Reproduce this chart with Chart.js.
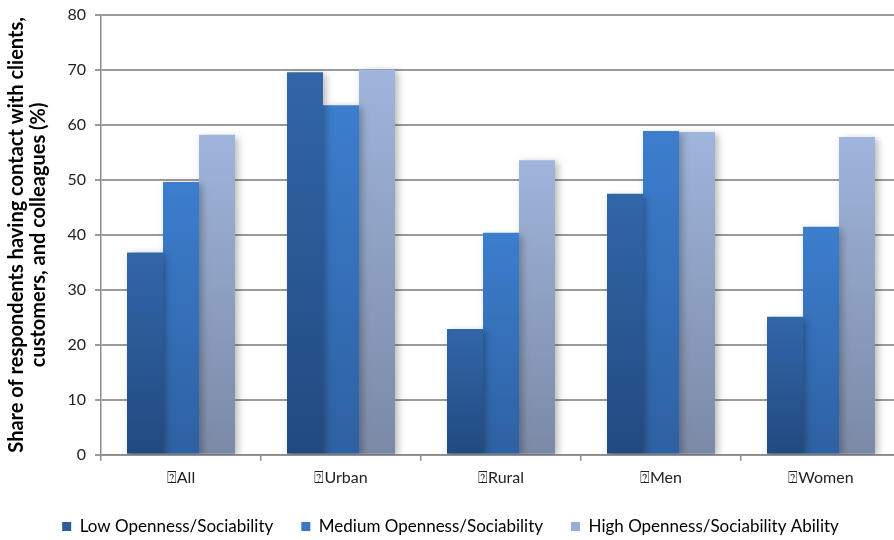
<!DOCTYPE html>
<html>
<head>
<meta charset="utf-8">
<script src="https://cdn.jsdelivr.net/npm/chart.js@4.4.1/dist/chart.umd.min.js"></script>
<style>
  html, body { margin: 0; padding: 0; background: #fff; overflow: hidden; }
  #wrap { position: relative; width: 902px; height: 540px; }
</style>
</head>
<body>
<div id="wrap"><canvas id="chart"></canvas></div>
<script>
// Groups along the x axis
const categories = ['\u2370All', '\u2370Urban', '\u2370Rural', '\u2370Men', '\u2370Women'];

// Share of respondents (%) by openness/sociability level
const lowOpenness = [36.8, 69.6, 22.9, 47.5, 25.1];
const mediumOpenness = [49.6, 63.6, 40.4, 58.9, 41.5];
const highOpenness = [58.2, 70.1, 53.6, 58.7, 57.8];

const seriesNames = [
  'Low Openness/Sociability',
  'Medium Openness/Sociability',
  'High Openness/Sociability Ability'
];

const yTicks = [0, 10, 20, 30, 40, 50, 60, 70, 80];

const FONT = 'Lato, "Open Sans", "DejaVu Sans", sans-serif';
const LEGEND_GAP = 28;

// vertical gradient running from each bar's top to its base
function barGradient(topColor, bottomColor) {
  return (ctx) => {
    const chart = ctx.chart;
    const y = chart.scales.y;
    if (!y || ctx.raw === undefined) return topColor;
    const top = y.getPixelForValue(ctx.raw);
    const base = y.getPixelForValue(0);
    if (!isFinite(top) || !isFinite(base) || top === base) return topColor;
    const g = chart.ctx.createLinearGradient(0, top, 0, base);
    g.addColorStop(0, topColor);
    g.addColorStop(1, bottomColor);
    return g;
  };
}

// soft drop shadow behind the bars
const barShadow = {
  id: 'barShadow',
  beforeDatasetsDraw(chart) {
    const c = chart.ctx;
    c.save();
    c.shadowColor = 'rgba(0,0,0,0.28)';
    c.shadowBlur = 7;
    c.shadowOffsetX = 3;
    c.shadowOffsetY = 2;
  },
  afterDatasetsDraw(chart) {
    chart.ctx.restore();
  }
};

new Chart(document.getElementById('chart'), {
  type: 'bar',
  data: {
    labels: categories,
    datasets: [
      {
        label: seriesNames[0],
        data: lowOpenness,
        backgroundColor: barGradient('#3166a9', '#224a80'),
        legendColor: '#2c5c9a'
      },
      {
        label: seriesNames[1],
        data: mediumOpenness,
        backgroundColor: barGradient('#3c7ecd', '#2e61a3'),
        legendColor: '#3a78c3'
      },
      {
        label: seriesNames[2],
        data: highOpenness,
        backgroundColor: barGradient('#9fb5dc', '#7b89a6'),
        legendColor: '#9aaed3'
      }
    ]
  },
  plugins: [barShadow],
  options: {
    responsive: true,
    maintainAspectRatio: false,
    animation: false,
    layout: { padding: { left: 0, right: 1, top: 15, bottom: 0 } },
    datasets: {
      bar: { categoryPercentage: 0.675, barPercentage: 1.0 }
    },
    plugins: {
      legend: {
        position: 'bottom',
        maxHeight: LEGEND_GAP + 22,
        labels: {
          font: { family: FONT, size: 17 },
          color: '#222',
          boxWidth: 9,
          boxHeight: 9,
          padding: LEGEND_GAP,
          generateLabels(chart) {
            return chart.data.datasets.map((ds, i) => ({
              text: ds.label,
              fillStyle: ds.legendColor,
              strokeStyle: ds.legendColor,
              lineWidth: 0,
              hidden: false,
              datasetIndex: i
            }));
          }
        }
      },
      tooltip: { enabled: false }
    },
    scales: {
      x: {
        afterFit(scale) { scale.height -= 4; },
        grid: {
          offset: true,
          drawOnChartArea: false,
          drawTicks: true,
          tickLength: 6,
          color: '#8c8c8c',
          lineWidth: 1.5
        },
        border: { color: '#8c8c8c', width: 1.5 },
        ticks: {
          font: { family: FONT, size: 16 },
          color: '#222',
          padding: 7
        }
      },
      y: {
        min: 0,
        max: 80,
        afterBuildTicks(scale) {
          scale.ticks = yTicks.map(v => ({ value: v }));
        },
        afterFit(scale) {
          scale.width = 101;
          scale.paddingTop = 0;
          scale.paddingBottom = 0;
        },
        grid: {
          color: '#9a9a9a',
          lineWidth: 2,
          drawTicks: true,
          tickLength: 6
        },
        border: { color: '#8c8c8c', width: 1.5 },
        ticks: {
          font: { family: FONT, size: 16 },
          color: '#222',
          padding: 9
        },
        title: {
          display: true,
          text: ['Share of respondents having contact with clients,', 'customers, and colleagues (%)'],
          font: { family: FONT, size: 20, weight: 'bold', lineHeight: 1.1 },
          color: '#000',
          padding: { top: 6, bottom: 0 }
        }
      }
    }
  }
});
</script>
</body>
</html>
